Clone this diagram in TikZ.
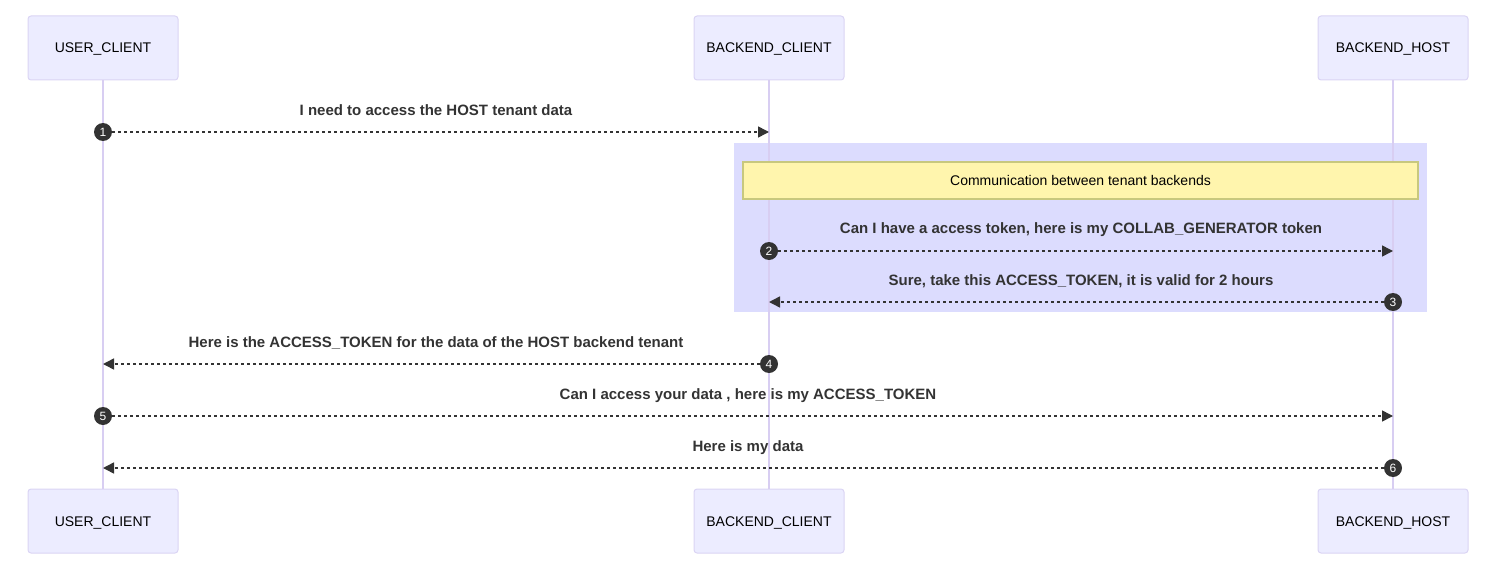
\documentclass[tikz,border=0pt]{standalone}
\usepackage{fontspec}
\setmainfont{Liberation Sans}
\usetikzlibrary{arrows.meta}
\definecolor{actorfill}{HTML}{ECECFF}
\definecolor{actorline}{HTML}{DAD4F4}
\definecolor{lifeline}{HTML}{D8CEF2}
\definecolor{rectc}{HTML}{DCDCFE}
\definecolor{notefill}{HTML}{FFF5AD}
\definecolor{noteline}{HTML}{C8C87E}
\definecolor{msgc}{HTML}{333333}
\begin{document}
\begin{tikzpicture}[x=1pt,y=-1pt,
 actor/.style={draw=actorline, fill=actorfill, rounded corners=3pt, minimum width=150pt, minimum height=64pt, inner sep=0pt, text height=10pt, text depth=0pt, font=\fontsize{14}{16}\selectfont, line width=1pt},
 life/.style={draw=lifeline, line width=1.5pt},
 msg/.style={draw=msgc, line width=1.5pt, dash pattern=on 3pt off 3pt},
 tip/.style={-{Triangle[length=11pt,width=11pt]}},
 seq/.style={circle, fill=msgc, text=white, inner sep=0pt, minimum size=18pt, font=\fontsize{12}{12}\selectfont},
 mtext/.style={font=\bfseries\fontsize{15}{18}\selectfont, text=msgc, text height=11pt, text depth=0pt},
 rectbg/.style={fill=rectc, inner sep=0pt, minimum width=693pt, minimum height=169pt},
 notebox/.style={draw=noteline, fill=notefill, line width=1.5pt, inner sep=0pt, minimum width=675pt, minimum height=37pt, text height=10pt, text depth=0pt, font=\fontsize{14}{16}\selectfont},
]
\useasboundingbox (0,0) rectangle (1493,567);
% background rect
\node[rectbg] (bg) at (1080.5,227.5) {};
% actors
\node[actor] (uc1) at (103,48) {USER\_CLIENT};
\node[actor] (bc1) at (769,48) {BACKEND\_CLIENT};
\node[actor] (bh1) at (1393,48) {BACKEND\_HOST};
\node[actor] (uc2) at (103,521) {USER\_CLIENT};
\node[actor] (bc2) at (769,521) {BACKEND\_CLIENT};
\node[actor] (bh2) at (1393,521) {BACKEND\_HOST};
% lifelines
\draw[life] (uc1.south) -- (uc2.north);
\draw[life] (bc1.south) -- (bc2.north);
\draw[life] (bh1.south) -- (bh2.north);
% note
\node[notebox] (note) at (1080.5,180.5) {Communication between tenant backends};
% message 1
\node[mtext] (t1) at (436,110) {I need to access the HOST tenant data};
\node[seq] (n1) at (103,132) {1};
\coordinate (e1) at (769,132);
\draw[msg,tip] (n1) -- (e1);
% message 2
\node[mtext] (t2) at (1081,228) {Can I have a access token, here is my COLLAB\_GENERATOR token};
\node[seq] (n2) at (769,251) {2};
\coordinate (e2) at (1393,251);
\draw[msg,tip] (n2) -- (e2);
% message 3
\node[mtext] (t3) at (1081,280) {Sure, take this ACCESS\_TOKEN, it is valid for 2 hours};
\node[seq] (n3) at (1393,302) {3};
\coordinate (e3) at (769,302);
\draw[msg,tip] (n3) -- (e3);
% message 4
\node[mtext] (t4) at (436,342) {Here is the ACCESS\_TOKEN for the data of the HOST backend tenant};
\node[seq] (n4) at (769,364) {4};
\coordinate (e4) at (103,364);
\draw[msg,tip] (n4) -- (e4);
% message 5
\node[mtext] (t5) at (748,394) {Can I access your data , here is my ACCESS\_TOKEN};
\node[seq] (n5) at (103,416) {5};
\coordinate (e5) at (1393,416);
\draw[msg,tip] (n5) -- (e5);
% message 6
\node[mtext] (t6) at (748,446) {Here is my data};
\node[seq] (n6) at (1393,468) {6};
\coordinate (e6) at (103,468);
\draw[msg,tip] (n6) -- (e6);
\end{tikzpicture}
\end{document}
